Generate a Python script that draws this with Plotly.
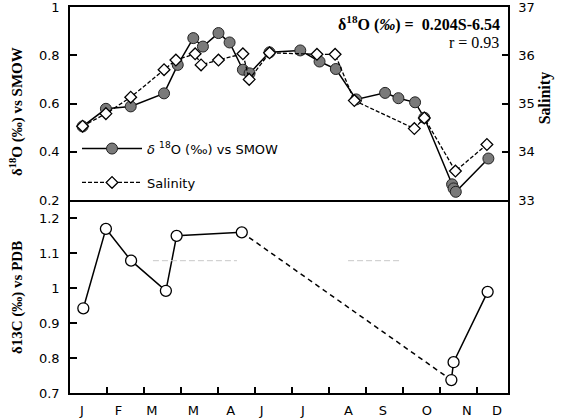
import plotly.graph_objects as go

# Sampling times, expressed in months elapsed since 1 January
o18_month = [0.34, 0.97, 1.64, 2.54, 2.91, 3.33, 3.59, 4.01, 4.31, 4.67, 4.85, 5.39,
             6.22, 6.74, 7.18, 7.73, 8.51, 8.87, 9.32, 9.57, 10.32, 10.36, 10.42, 11.30]
o18_value = [0.505, 0.578, 0.588, 0.642, 0.760, 0.871, 0.836, 0.892, 0.853, 0.740, 0.725, 0.812,
             0.820, 0.774, 0.743, 0.617, 0.644, 0.622, 0.605, 0.541, 0.265, 0.248, 0.234, 0.372]

sal_month = [0.34, 0.97, 1.64, 2.54, 2.86, 3.38, 3.54, 4.01, 4.67, 4.84, 5.39,
             6.67, 7.16, 7.68, 9.30, 9.57, 10.41, 11.26]
sal_value = [34.53, 34.79, 35.13, 35.70, 35.90, 36.03, 35.80, 35.90, 36.03, 35.50, 36.05,
             36.02, 36.02, 35.06, 34.48, 34.70, 33.60, 34.15]

c13_month = [0.36, 0.97, 1.65, 2.59, 2.88, 4.64, 10.30, 10.36, 11.28]
c13_value = [0.942, 1.169, 1.078, 0.992, 1.149, 1.159, 0.737, 0.788, 0.989]

month_edges = list(range(1, 12))
month_label_pos = [0.32, 1.31, 2.21, 3.33, 4.34, 5.18, 6.29, 7.52, 8.45, 9.64, 10.72, 11.53]
month_labels = ["J", "F", "M", "M", "A", "J", "J", "A", "S", "O", "N", "D"]

faint_level = 1.078
faint_spans = [[2.24, 4.51], [7.51, 8.92]]

X_RANGE = [0, 11.83]
TICK_FONT = dict(family="DejaVu Sans", size=13, color="black")
SERIF = "Liberation Serif"

fig = go.Figure()

# Salinity (right axis, dashed with open diamonds)
fig.add_trace(go.Scatter(
    x=sal_month, y=sal_value, xaxis="x", yaxis="y2", mode="lines+markers",
    name="Salinity", legendgroup="b", legendrank=2,
    line=dict(color="black", width=1.3, dash="4px,2px"),
    marker=dict(symbol="diamond", size=9, color="white",
                line=dict(color="black", width=1.3)),
))

# delta-18O (left axis, solid with grey dots)
fig.add_trace(go.Scatter(
    x=o18_month, y=o18_value, xaxis="x", yaxis="y", mode="lines+markers",
    name="<i>δ</i> <sup>18</sup>O (‰) vs SMOW", legendgroup="a", legendrank=1,
    line=dict(color="black", width=1.5),
    marker=dict(symbol="circle", size=11, color="#7a7a7a",
                line=dict(color="#222222", width=1)),
))

# delta-13C: solid runs with a dashed gap between them
c13_line = dict(color="black", width=1.5)
fig.add_trace(go.Scatter(
    x=c13_month[5:7], y=c13_value[5:7], xaxis="x2", yaxis="y3", mode="lines",
    line=dict(color="black", width=1.5, dash="5px,4px"), showlegend=False,
))
for part in (slice(0, 6), slice(6, None)):
    fig.add_trace(go.Scatter(
        x=c13_month[part], y=c13_value[part], xaxis="x2", yaxis="y3",
        mode="lines+markers", line=c13_line, showlegend=False,
        marker=dict(symbol="circle", size=11, color="white",
                    line=dict(color="black", width=1.3)),
    ))

# faint grey dashes across the lower panel
for span in faint_spans:
    fig.add_trace(go.Scatter(
        x=span, y=[faint_level, faint_level], xaxis="x3", yaxis="y3", mode="lines",
        line=dict(color="#c8c8c8", width=1, dash="6px,3px"), showlegend=False,
        hoverinfo="skip",
    ))

axis_common = dict(showgrid=False, zeroline=False, linecolor="black", linewidth=1.5,
                   tickcolor="black", tickfont=TICK_FONT, automargin=False,
                   ticklabeloverflow="allow")

fig.update_layout(
    width=568, height=418,
    margin=dict(l=70, r=60, t=7, b=25),
    paper_bgcolor="white", plot_bgcolor="white",
    showlegend=True,
    legend=dict(x=0.016, y=0.672, xanchor="left", yanchor="top",
                bgcolor="rgba(0,0,0,0)", traceorder="grouped", tracegroupgap=14,
                font=dict(family="DejaVu Sans", size=13, color="black"),
                itemwidth=60),
    xaxis=dict(domain=[0, 1], anchor="y", range=X_RANGE, showline=True, mirror=True,
               ticks="", showticklabels=False, **axis_common),
    yaxis=dict(domain=[0.5, 1], anchor="x", range=[0.2, 1.0], dtick=0.2, tick0=0.2,
               showline=True, ticks="inside", ticklen=7, tickwidth=1.5,
               ticklabelstandoff=6, **axis_common),
    yaxis2=dict(overlaying="y", side="right", anchor="x", range=[33, 37], dtick=1,
                showline=True, ticks="inside", ticklen=6, tickwidth=1.5,
                ticklabelstandoff=6, **axis_common),
    xaxis2=dict(domain=[0, 1], anchor="y3", range=X_RANGE, showline=True, mirror=False,
                tickvals=month_edges, ticks="inside", ticklen=6, tickwidth=1.5,
                showticklabels=False, **axis_common),
    yaxis3=dict(domain=[0, 0.5], anchor="x2", range=[0.7, 1.2514], dtick=0.1, tick0=0.7,
                showline=True, mirror=True, ticks="inside", ticklen=7, tickwidth=1.5,
                ticklabelstandoff=6, **axis_common),
    xaxis3=dict(overlaying="x2", anchor="y3", side="bottom", range=X_RANGE,
                tickvals=month_label_pos, ticktext=month_labels, ticks="",
                showline=False, showgrid=False, zeroline=False, automargin=False,
                ticklabeloverflow="allow",
                tickfont=dict(family="DejaVu Sans", size=13, color="black"),
                ticklabelstandoff=8),
)

annotations = [
    dict(text="<b>δ<sup>18</sup>O (‰) vs SMOW</b>", x=-0.121, y=0.728, textangle=-90,
         font=dict(family=SERIF, size=15, color="black")),
    dict(text="<b>Salinity</b>", x=1.085, y=0.764, textangle=-90,
         font=dict(family=SERIF, size=16, color="black")),
    dict(text="<b>δ13C (‰) vs PDB</b>", x=-0.121, y=0.246, textangle=-90,
         font=dict(family=SERIF, size=15, color="black")),
    dict(text="<b>δ<sup>18</sup>O (<i>‰</i>) =  0.204S-6.54</b>", x=0.987, y=0.958,
         xanchor="right", font=dict(family=SERIF, size=16, color="black")),
    dict(text="r = 0.93", x=0.984, y=0.909, xanchor="right",
         font=dict(family=SERIF, size=16, color="black")),
]
for a in annotations:
    a.setdefault("xanchor", "center")
    fig.add_annotation(xref="paper", yref="paper", yanchor="middle", showarrow=False, **a)

fig.write_html("out.html")
